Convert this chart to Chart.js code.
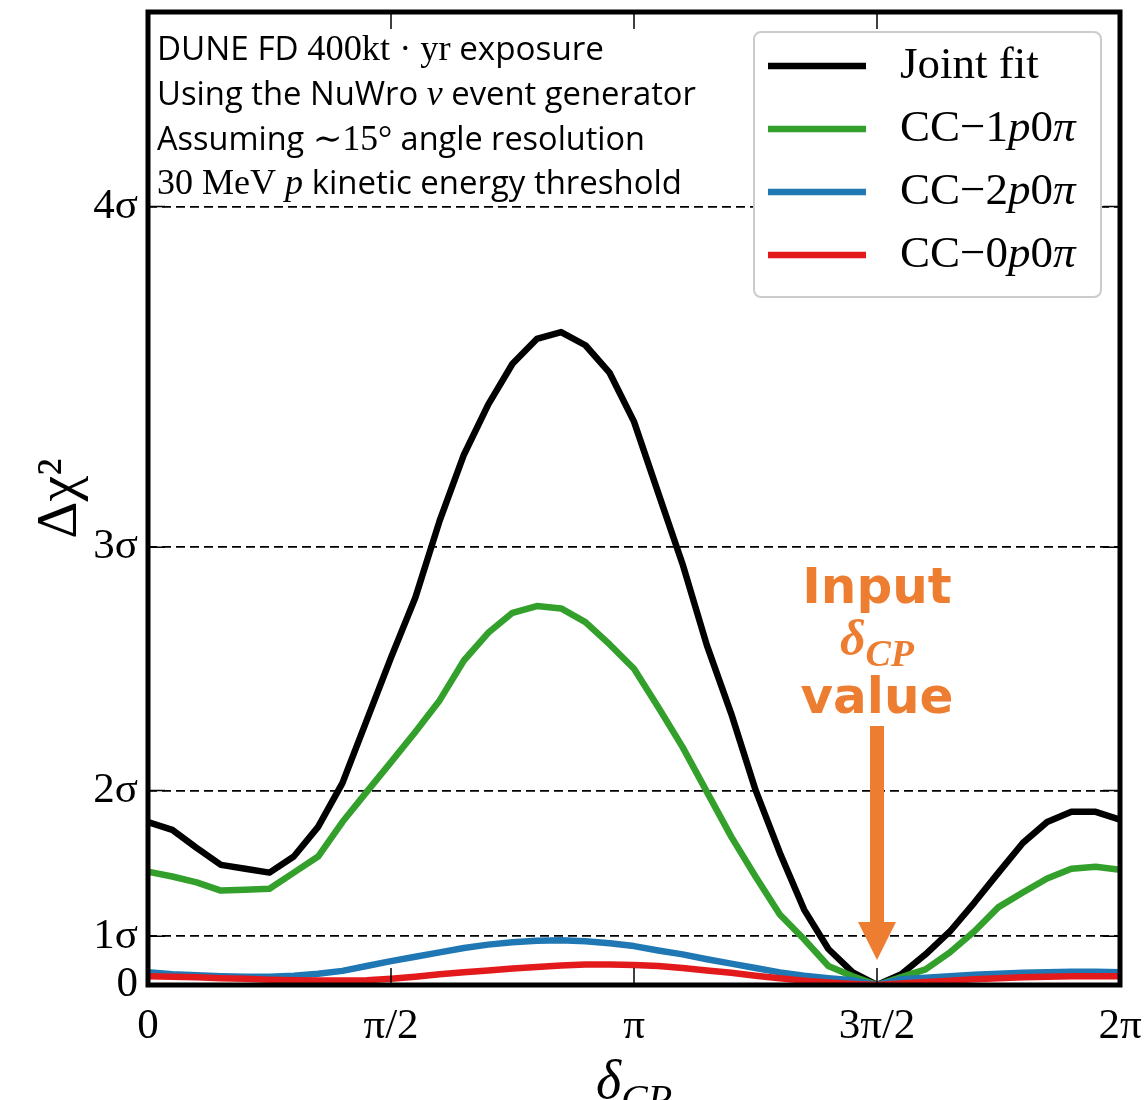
<!DOCTYPE html>
<html>
<head>
<meta charset="utf-8">
<script src="https://cdn.jsdelivr.net/npm/chart.js@4.4.1/dist/chart.umd.min.js"></script>
<style>
html, body { margin: 0; padding: 0; background: #fff; overflow: hidden; }
#wrap { width: 1148px; height: 1130px; }
</style>
</head>
<body>
<div id="wrap"><canvas id="chi2"></canvas></div>
<script>
// delta_CP in degrees
var deltaDeg = [0, 9, 18, 27, 36, 45, 54, 63, 72, 81, 90, 99, 108, 117, 126, 135, 144, 153, 162, 171,
                180, 189, 198, 207, 216, 225, 234, 243, 252, 261, 270, 279, 288, 297, 306, 315, 324, 333, 342, 351, 360];

// delta chi^2 curves
var jointFit = [3.35, 3.19, 2.82, 2.47, 2.39, 2.31, 2.64, 3.25, 4.15, 5.44, 6.73, 7.96, 9.54, 10.90, 11.93, 12.77, 13.28, 13.42, 13.15, 12.58,
                11.58, 10.11, 8.65, 6.98, 5.58, 4.01, 2.72, 1.55, 0.74, 0.26, 0, 0.22, 0.63, 1.10, 1.69, 2.31, 2.92, 3.35, 3.56, 3.56, 3.40];
var cc1p = [2.33, 2.23, 2.11, 1.94, 1.96, 1.98, 2.31, 2.64, 3.35, 3.97, 4.58, 5.20, 5.85, 6.67, 7.24, 7.65, 7.79, 7.74, 7.46, 7.00,
            6.50, 5.71, 4.89, 3.97, 3.05, 2.23, 1.45, 0.94, 0.39, 0.18, 0, 0.16, 0.32, 0.67, 1.10, 1.60, 1.90, 2.19, 2.39, 2.43, 2.37];
var cc2p = [0.26, 0.22, 0.20, 0.18, 0.17, 0.17, 0.19, 0.23, 0.29, 0.39, 0.49, 0.58, 0.67, 0.76, 0.83, 0.88, 0.91, 0.92, 0.90, 0.86,
            0.80, 0.71, 0.63, 0.53, 0.44, 0.35, 0.26, 0.19, 0.14, 0.10, 0, 0.12, 0.15, 0.18, 0.21, 0.23, 0.25, 0.26, 0.27, 0.27, 0.26];
var cc0p = [0.18, 0.17, 0.16, 0.14, 0.13, 0.11, 0.10, 0.09, 0.09, 0.10, 0.13, 0.17, 0.22, 0.26, 0.30, 0.34, 0.37, 0.40, 0.42, 0.42,
            0.41, 0.39, 0.35, 0.30, 0.25, 0.19, 0.14, 0.09, 0.05, 0.02, 0, 0.03, 0.06, 0.09, 0.12, 0.14, 0.16, 0.17, 0.18, 0.18, 0.18];

var seriesNames = ['Joint fit', 'CC\u22121p0\u03c0', 'CC\u22122p0\u03c0', 'CC\u22120p0\u03c0'];

// axis ticks
var xTickValues = [0, 90, 180, 270, 360];
var xTickLabels = ['0', '\u03c0/2', '\u03c0', '3\u03c0/2', '2\u03c0'];
var yTickValues = [0, 1, 4, 9, 16];
var yTickLabels = ['0', '1\u03c3', '2\u03c3', '3\u03c3', '4\u03c3'];

var inputDeg = 270;

var SERIF = '"Liberation Serif", "DejaVu Serif", serif';
var SANS = '"Open Sans", "Noto Sans", sans-serif';
var ORANGE = '#ED7D31';

function pts(ys) {
    return deltaDeg.map(function (d, i) { return { x: d, y: ys[i] }; });
}

// draw a line of mixed-font text, squeezed to end at xEnd
function drawRuns(ctx, runs, x, y, xEnd) {
    var w = 0;
    runs.forEach(function (r) { ctx.font = r[1]; w += ctx.measureText(r[0]).width; });
    ctx.save();
    ctx.translate(x, y);
    if (xEnd) ctx.scale((xEnd - x) / w, 1);
    var cx = 0;
    runs.forEach(function (r) {
        ctx.font = r[1];
        ctx.fillText(r[0], cx, 0);
        cx += ctx.measureText(r[0]).width;
    });
    ctx.restore();
}

var decor = {
    id: 'decor',
    afterDatasetsDraw: function (chart) {
        var ctx = chart.ctx, a = chart.chartArea;
        var xs = chart.scales.x, ys = chart.scales.y;
        ctx.save();

        // inward ticks on all four sides
        ctx.strokeStyle = '#000';
        ctx.lineWidth = 1.5;
        ctx.beginPath();
        xTickValues.forEach(function (v) {
            var px = xs.getPixelForValue(v);
            ctx.moveTo(px, a.bottom); ctx.lineTo(px, a.bottom - 17);
            ctx.moveTo(px, a.top); ctx.lineTo(px, a.top + 17);
        });
        yTickValues.forEach(function (v) {
            var py = ys.getPixelForValue(v);
            ctx.moveTo(a.left, py); ctx.lineTo(a.left + 17, py);
            ctx.moveTo(a.right, py); ctx.lineTo(a.right - 17, py);
        });
        ctx.stroke();

        // frame
        ctx.lineWidth = 5;
        ctx.strokeRect(a.left, a.top, a.right - a.left, a.bottom - a.top);

        // info text, top left
        ctx.fillStyle = '#000';
        ctx.textBaseline = 'alphabetic';
        ctx.textAlign = 'left';
        var s = '32px ' + SANS, m = '35px ' + SERIF, mi = 'italic 35px ' + SERIF;
        drawRuns(ctx, [['DUNE FD ', s], ['400kt \u00b7 yr', m], [' exposure', s]], 157, 60, 604);
        drawRuns(ctx, [['Using the NuWro ', s], ['\u03bd', mi], [' event generator', s]], 157, 105, 696);
        drawRuns(ctx, [['Assuming ', s], ['\u223c15\u00b0', m], [' angle resolution', s]], 157, 150, 645);
        drawRuns(ctx, [['30 MeV ', m], ['p', mi], [' kinetic energy threshold', s]], 157, 194, 682);

        // legend
        var lx = 754, ly = 32, lw = 347, lh = 265;
        ctx.beginPath();
        ctx.roundRect(lx, ly, lw, lh, 7);
        ctx.fillStyle = '#fff';
        ctx.fill();
        ctx.lineWidth = 2;
        ctx.strokeStyle = '#cccccc';
        ctx.stroke();
        chart.data.datasets.forEach(function (ds, i) {
            var ry = 66 + i * 63;
            ctx.strokeStyle = ds.borderColor;
            ctx.lineWidth = 6.5;
            ctx.beginPath();
            ctx.moveTo(768, ry); ctx.lineTo(866, ry);
            ctx.stroke();
            ctx.fillStyle = '#000';
            ctx.textBaseline = 'middle';
            var cx = 900;
            ds.label.split('').forEach(function (ch) {
                ctx.font = (ch === 'p' || ch === '\u03c0' ? 'italic ' : '') + '45px ' + SERIF;
                ctx.fillText(ch, cx, ry);
                cx += ctx.measureText(ch).width;
            });
        });

        // input value annotation
        var ax = xs.getPixelForValue(inputDeg);
        ctx.fillStyle = ORANGE;
        ctx.textAlign = 'center';
        ctx.textBaseline = 'alphabetic';
        ctx.font = 'bold 50px "DejaVu Sans", sans-serif';
        ctx.fillText('Input', ax, 603);
        ctx.fillText('value', ax, 713);
        ctx.textAlign = 'left';
        var fd = 'bold italic 50px ' + SERIF, fs = 'bold italic 38px ' + SERIF;
        ctx.font = fd;
        var dw = ctx.measureText('\u03b4').width;
        ctx.font = fs;
        var cw = ctx.measureText('CP').width;
        var x0 = ax - (dw + cw) / 2;
        ctx.font = fd;
        ctx.fillText('\u03b4', x0, 655);
        ctx.font = fs;
        ctx.fillText('CP', x0 + dw, 666);

        ctx.fillRect(ax - 7, 726, 14, 198);
        ctx.beginPath();
        ctx.moveTo(ax - 19, 922);
        ctx.lineTo(ax + 19, 922);
        ctx.lineTo(ax, 960);
        ctx.closePath();
        ctx.fill();

        // x axis title
        ctx.fillStyle = '#000';
        var mid = (a.left + a.right) / 2;
        ctx.font = 'italic 54px ' + SERIF;
        var tw = ctx.measureText('\u03b4').width;
        ctx.fillText('\u03b4', mid - 38, 1098);
        ctx.font = 'italic 40px ' + SERIF;
        ctx.fillText('CP', mid - 38 + tw, 1112);

        ctx.restore();
    }
};

var ctx = document.getElementById('chi2').getContext('2d');
var chart = new Chart(ctx, {
    type: 'line',
    data: {
        datasets: [
            { label: seriesNames[0], data: pts(jointFit), borderColor: '#000000', order: 3 },
            { label: seriesNames[1], data: pts(cc1p), borderColor: '#33a02c', order: 2 },
            { label: seriesNames[2], data: pts(cc2p), borderColor: '#1f78b4', order: 1 },
            { label: seriesNames[3], data: pts(cc0p), borderColor: '#e31a1c', order: 0 }
        ]
    },
    options: {
        responsive: true,
        maintainAspectRatio: false,
        animation: false,
        layout: { padding: { top: 12, right: 28, left: 0, bottom: 0 } },
        elements: {
            line: { borderWidth: 6.5, tension: 0, fill: false, borderJoinStyle: 'round' },
            point: { radius: 0, hoverRadius: 0 }
        },
        plugins: {
            legend: { display: false },
            tooltip: { enabled: false }
        },
        scales: {
            x: {
                type: 'linear',
                min: 0,
                max: 360,
                afterFit: function (s) { s.height = 145; s.paddingLeft = 0; s.paddingRight = 0; },
                afterBuildTicks: function (s) { s.ticks = xTickValues.map(function (v) { return { value: v }; }); },
                grid: { display: false, drawTicks: false },
                border: { display: false },
                ticks: {
                    padding: 16,
                    color: '#000',
                    font: { family: SERIF, size: 43 },
                    callback: function (v) { return xTickLabels[xTickValues.indexOf(v)]; }
                }
            },
            y: {
                min: 0,
                max: 20,
                afterFit: function (s) { s.width = 148; s.paddingTop = 0; s.paddingBottom = 0; },
                afterBuildTicks: function (s) { s.ticks = yTickValues.map(function (v) { return { value: v }; }); },
                grid: {
                    drawTicks: false,
                    color: function (c) { return c.tick && c.tick.value === 0 ? 'rgba(0,0,0,0)' : '#000'; },
                    lineWidth: 1.8
                },
                border: { display: false, dash: [9, 5] },
                ticks: {
                    padding: 10,
                    color: '#000',
                    font: { family: SERIF, size: 43 },
                    callback: function (v) { return yTickLabels[yTickValues.indexOf(v)]; }
                },
                title: {
                    display: true,
                    text: '\u0394\u03c7\u00b2',
                    color: '#000',
                    font: { family: SERIF, size: 58 },
                    padding: { top: 26, bottom: 0 }
                }
            }
        }
    },
    plugins: [decor]
});
</script>
</body>
</html>
